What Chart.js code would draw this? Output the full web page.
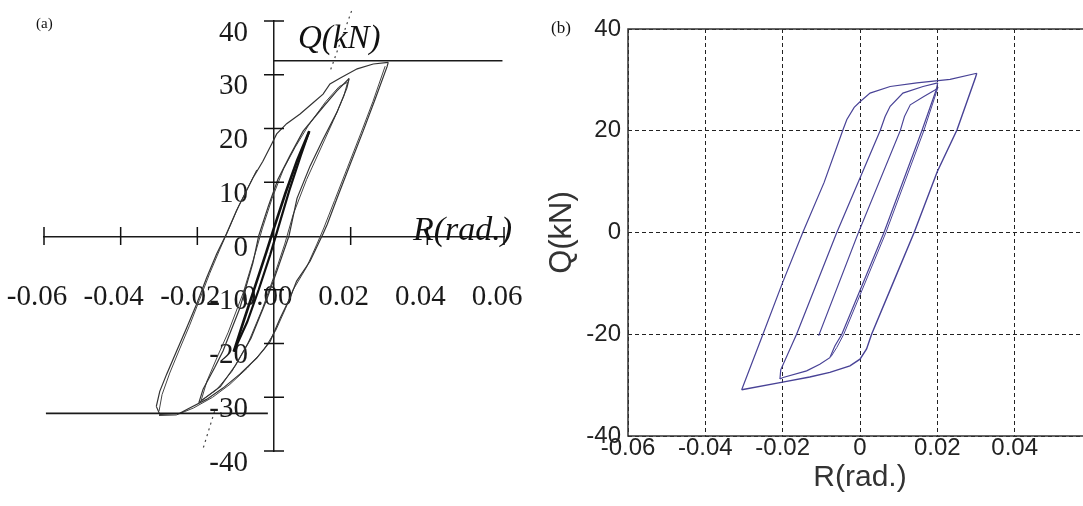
<!DOCTYPE html>
<html>
<head>
<meta charset="utf-8">
<script src="https://cdn.jsdelivr.net/npm/chart.js@4.4.1/dist/chart.umd.min.js"></script>
<style>
  html, body { margin: 0; padding: 0; background: #fff; overflow: hidden; }
  #wrap { position: relative; width: 1083px; height: 506px; overflow: hidden; background: #fff; }
  canvas { position: absolute; top: 0; }
  #chartA { left: 0; }
  #chartB { left: 540px; }
  .lbl { position: absolute; white-space: nowrap; line-height: 1; color: #111; }
</style>
</head>
<body>
<div id="wrap">
  <canvas id="chartA" width="540" height="506"></canvas>
  <canvas id="chartB" width="560" height="506"></canvas>
  <div class="lbl" style="left:36px;top:15px;font:15px 'Liberation Serif'">(a)</div>
  <div class="lbl" style="left:551px;top:18px;font:17px 'Liberation Serif'">(b)</div>
  <div class="lbl" style="left:298px;top:19px;font:italic 33px 'Liberation Serif'">Q(kN)</div>
  <div class="lbl" style="left:413px;top:210px;font:italic 34px 'Liberation Serif'">R(rad.)</div>
</div>
<script>
// --- (a) test result, [R (rad), Q (kN)] ---

const xTicksA = [-0.06, -0.04, -0.02, 0, 0.02, 0.04, 0.06];
const yTicksA = [-40, -30, -20, -10, 0, 10, 20, 30, 40];

const aOuterUp = [[-0.0307, -31.7], [-0.0298, -28.9], [-0.028, -25.7], [-0.0254, -21.4], [-0.0228, -17.1],
  [-0.0202, -12.7], [-0.0176, -7.8], [-0.015, -3.4], [-0.0124, 0.4], [-0.0098, 4.7], [-0.0076, 7.8],
  [-0.0055, 10.8], [-0.0029, 13.9], [-0.0006, 17.1], [0.0007, 19], [0.0033, 20.9], [0.0068, 22.7],
  [0.0102, 24.8], [0.0128, 26.4], [0.0146, 28.3], [0.0173, 29.4], [0.0217, 31.1], [0.0259, 32], [0.0298, 32.3]];
const aOuterUp2 = [[-0.03, -32.6], [-0.0292, -29.5], [-0.0272, -25.5], [-0.0246, -21], [-0.022, -16.6],
  [-0.0195, -12], [-0.0168, -7], [-0.0142, -2.6], [-0.0118, 1.3], [-0.0092, 5.6], [-0.0068, 9], [-0.0045, 12.3]];
const aOuterDown = [[0.0298, 32.3], [0.0295, 31.5], [0.0264, 25.5], [0.0233, 19.6], [0.0199, 13.4],
  [0.0165, 7.1], [0.0139, 2.2], [0.0128, 0.4], [0.0094, -4.7], [0.0059, -8.4], [0.0042, -11.5],
  [0.0016, -15.3], [-0.001, -19.6], [-0.0045, -22.7], [-0.0089, -25.7], [-0.0133, -28.3], [-0.0176, -30.4],
  [-0.022, -32], [-0.0246, -33], [-0.0298, -33.2], [-0.0307, -31.7]];
const aOuterDown2 = [[0.029, 31.6], [0.0258, 25], [0.0226, 19], [0.0192, 12.8], [0.0158, 6.6], [0.013, 1.5],
  [0.0112, -1.5], [0.0085, -5.8], [0.005, -10], [0.003, -13.5], [0.0005, -17.5], [-0.0025, -21],
  [-0.007, -24.6], [-0.0115, -27.6], [-0.016, -30], [-0.021, -32], [-0.0255, -33.3], [-0.03, -33.4]];
const aMidUp = [[-0.0196, -31], [-0.0185, -28.5], [-0.0155, -24.5], [-0.0133, -21.4], [-0.0089, -13.4],
  [-0.0055, -5], [-0.004, 0], [-0.0015, 5.5], [0.001, 10.5], [0.0042, 15], [0.0076, 19.5], [0.0128, 24],
  [0.0164, 27], [0.0196, 29.3]];
const aMidDown = [[0.0196, 29.3], [0.019, 27.5], [0.0164, 23], [0.0128, 18], [0.0094, 13], [0.006, 7],
  [0.0039, 0], [0.001, -6], [-0.002, -12], [-0.006, -19], [-0.01, -24], [-0.014, -28], [-0.0196, -31]];
const aMidUp2 = [[-0.019, -30.6], [-0.0175, -27], [-0.0145, -22], [-0.012, -18], [-0.008, -10.5],
  [-0.0048, -3], [-0.003, 1.5], [-0.0005, 7], [0.0025, 12.5], [0.0055, 16.5], [0.009, 20.6], [0.0135, 25],
  [0.017, 27.8], [0.0192, 28.6]];
const aMidDown2 = [[0.0192, 28.6], [0.0182, 26], [0.0155, 21.5], [0.012, 16], [0.0085, 10.5], [0.005, 4],
  [0.0028, -1.5], [0, -7.5], [-0.003, -13.5], [-0.0068, -20], [-0.011, -25.2], [-0.015, -28.6], [-0.019, -30.6]];
const aSmallUp = [[-0.0105, -21.5], [-0.008, -16], [-0.005, -9.5], [-0.002, -3], [0, 1.5], [0.003, 8],
  [0.006, 14], [0.0092, 19.5]];
const aSmallDown = [[0.0092, 19.5], [0.007, 15], [0.004, 8.5], [0.0015, 2.5], [-0.001, -3.5], [-0.004, -10],
  [-0.007, -16], [-0.0105, -21.5]];
const aInitTop = [[0.0148, 31], [0.0203, 42]];
const aInitBottom = [[-0.0155, -32.6], [-0.0187, -40]];
const aMaxLine = [[0, 32.6], [0.0596, 32.6]];
const aMinLine = [[-0.0595, -33], [-0.0016, -33]];

// --- (b) analysis result ---

const xTicksB = [-0.06, -0.04, -0.02, 0, 0.02, 0.04];
const yTicksB = [-40, -20, 0, 20, 40];

const bStart = [[-0.0107, -20.3], [-0.0004, 0], [0.0104, 20], [0.0115, 22.8], [0.013, 25.1], [0.0164, 26.7],
  [0.0194, 28], [0.0199, 28.3]];
const bMidDown = [[0.0201, 29.4], [0.0197, 28], [0.016, 20], [0.0062, 0], [-0.0047, -20], [-0.0065, -22.3],
  [-0.0078, -24.6], [-0.0104, -25.9], [-0.0138, -27.2], [-0.0199, -28.5], [-0.0207, -28.8]];
const bMidDown2 = [[0.0202, 28.6], [0.0165, 20], [0.0067, 0], [-0.0042, -20], [-0.006, -22.6], [-0.0075, -24.4]];
const bMidUp = [[-0.0207, -28.8], [-0.0205, -27], [-0.0164, -20], [-0.006, 0], [0.0052, 20], [0.0065, 22.8],
  [0.0078, 24.8], [0.0111, 27.4], [0.0163, 28.7], [0.0201, 29.4]];
const bOuterUp = [[-0.0306, -30.9], [-0.0251, -20], [-0.02, -9.8], [-0.0148, 0], [-0.0093, 9.8],
  [-0.0044, 20.2], [-0.0034, 22.2], [-0.0015, 24.6], [0, 25.7], [0.0026, 27.4], [0.0078, 28.7],
  [0.0147, 29.4], [0.0233, 30.1], [0.0302, 31.3]];
const bOuterDown = [[0.0302, 31.3], [0.0298, 30.3], [0.0251, 20.2], [0.02, 12], [0.014, 0], [0.0085, -10],
  [0.003, -20], [0.0017, -22.9], [0, -24.9], [-0.0026, -26.2], [-0.0078, -27.5], [-0.013, -28.4],
  [-0.02, -29.4], [-0.0306, -30.9]];

Chart.defaults.animation = false;

const toPts = arr => arr.map(([x, y]) => ({ x, y }));

function line(arr, color, width, dash) {
    return {
        data: toPts(arr),
        showLine: true,
        borderColor: color,
        borderWidth: width,
        borderDash: dash || [],
        pointRadius: 0,
        tension: 0,
        fill: false,
        clip: false
    };
}

// the centre axes must not push the plot area in
function noAxisSpace(s) {
    if (s.isHorizontal()) s.height = 0; else s.width = 0;
    s.paddingLeft = s.paddingRight = s.paddingTop = s.paddingBottom = 0;
}

// ticks that cross the axis on both sides, as in the scanned figure
const crossTicks = {
    id: 'crossTicks',
    afterDraw(chart) {
        const { ctx, scales: { x, y } } = chart;
        const x0 = x.getPixelForValue(0);
        const y0 = y.getPixelForValue(0);
        ctx.save();
        ctx.strokeStyle = '#111';
        ctx.lineWidth = 1.5;
        ctx.beginPath();
        xTicksA.forEach(v => {
            if (v === 0) return;
            const px = x.getPixelForValue(v);
            ctx.moveTo(px, y0 - 9);
            ctx.lineTo(px, y0 + 9);
        });
        yTicksA.forEach(v => {
            if (v === 0) return;
            const py = y.getPixelForValue(v);
            ctx.moveTo(x0 - 10, py);
            ctx.lineTo(x0 + 10, py);
        });
        ctx.stroke();
        ctx.restore();
    }
};

// solid frame for (b): top, left, bottom (right edge is off the page)
const frameB = {
    id: 'frameB',
    beforeDatasetsDraw(chart) {
        const { ctx, chartArea: a } = chart;
        ctx.save();
        ctx.strokeStyle = '#333';
        ctx.lineWidth = 1.5;
        ctx.setLineDash([]);
        ctx.beginPath();
        ctx.moveTo(a.right + 20, a.top);
        ctx.lineTo(a.left, a.top);
        ctx.lineTo(a.left, a.bottom);
        ctx.lineTo(a.right + 20, a.bottom);
        ctx.stroke();
        ctx.restore();
    }
};

const serif = { family: "'Liberation Serif', 'Times New Roman', serif", size: 29 };
const black = '#1a1a1a';

new Chart(document.getElementById('chartA'), {
    type: 'scatter',
    data: {
        datasets: [
            line(aMaxLine, black, 1.6),
            line(aMinLine, black, 1.6),
            line(aInitTop, '#444', 1.2, [2, 4]),
            line(aInitBottom, '#444', 1.2, [2, 4]),
            line(aOuterUp, '#333', 1.2),
            line(aOuterUp2, '#444', 1.0),
            line(aOuterDown, '#333', 1.2),
            line(aOuterDown2, '#444', 1.0),
            line(aMidUp, '#333', 1.2),
            line(aMidDown, '#333', 1.2),
            line(aMidUp2, '#444', 1.0),
            line(aMidDown2, '#444', 1.0),
            line(aSmallUp, '#111', 2.6),
            line(aSmallDown, '#111', 2.2)
        ]
    },
    options: {
        responsive: false,
        layout: { padding: { left: 44, right: 36, top: 21, bottom: 55 } },
        plugins: { legend: { display: false }, tooltip: { enabled: false } },
        scales: {
            x: {
                type: 'linear',
                position: 'center',
                min: -0.06,
                max: 0.06,
                afterBuildTicks: s => { s.ticks = xTicksA.map(v => ({ value: v })); },
                afterFit: noAxisSpace,
                grid: { drawOnChartArea: false, drawTicks: false },
                border: { display: true, color: black, width: 1.5 },
                ticks: {
                    font: serif,
                    color: black,
                    padding: 44,
                    labelOffset: -7,
                    maxRotation: 0,
                    autoSkip: false,
                    callback: v => v.toFixed(2)
                }
            },
            y: {
                type: 'linear',
                position: 'center',
                min: -40,
                max: 40,
                afterBuildTicks: s => { s.ticks = yTicksA.map(v => ({ value: v })); },
                afterFit: noAxisSpace,
                grid: { drawOnChartArea: false, drawTicks: false },
                border: { display: true, color: black, width: 1.5 },
                ticks: {
                    font: serif,
                    color: black,
                    padding: 26,
                    labelOffset: 12,
                    autoSkip: false,
                    callback: v => String(v)
                }
            }
        }
    },
    plugins: [crossTicks]
});

const purple = 'rgb(72, 66, 150)';
const sans = "'Liberation Sans', Arial, sans-serif";

new Chart(document.getElementById('chartB'), {
    type: 'scatter',
    data: {
        datasets: [
            line(bOuterUp, purple, 1.2),
            line(bOuterDown, purple, 1.4),
            line(bMidUp, purple, 1.2),
            line(bMidDown, purple, 1.2),
            line(bMidDown2, purple, 1.0),
            line(bStart, purple, 1.1)
        ]
    },
    options: {
        responsive: false,
        layout: { padding: { left: 0, right: 8, top: 29, bottom: 0 } },
        plugins: { legend: { display: false }, tooltip: { enabled: false } },
        scales: {
            x: {
                type: 'linear',
                position: 'bottom',
                min: -0.06,
                max: 0.06,
                afterBuildTicks: s => { s.ticks = xTicksB.map(v => ({ value: v })); },
                afterFit: s => { s.height = 70; },
                grid: { color: '#222', lineWidth: 1, drawTicks: false },
                border: { display: false, dash: [4, 3] },
                ticks: {
                    font: { family: sans, size: 24 },
                    color: '#222',
                    padding: -2,
                    maxRotation: 0,
                    autoSkip: false,
                    callback: v => (v === 0 ? '0' : v.toFixed(2))
                },
                title: {
                    display: true,
                    text: 'R(rad.)',
                    font: { family: sans, size: 30 },
                    color: '#333',
                    padding: { top: 0, bottom: 10 }
                }
            },
            y: {
                type: 'linear',
                position: 'left',
                min: -40,
                max: 40,
                afterBuildTicks: s => { s.ticks = yTicksB.map(v => ({ value: v })); },
                afterFit: s => { s.width = 88; },
                grid: { color: '#222', lineWidth: 1, drawTicks: false },
                border: { display: false, dash: [4, 3] },
                ticks: {
                    font: { family: sans, size: 24 },
                    color: '#222',
                    padding: 7,
                    autoSkip: false,
                    callback: v => String(v)
                },
                title: {
                    display: true,
                    text: 'Q(kN)',
                    font: { family: sans, size: 31 },
                    color: '#333',
                    padding: { top: 4, bottom: 0 }
                }
            }
        }
    },
    plugins: [frameB]
});
</script>
</body>
</html>
